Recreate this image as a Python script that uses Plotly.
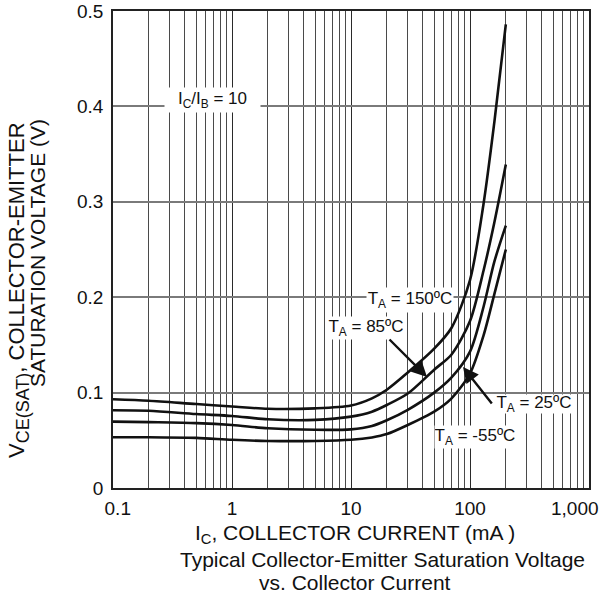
import plotly.graph_objects as go

# ---- data (collector current in mA, VCE(sat) in V) ----
current_mA = [0.1, 0.2, 0.5, 1, 2, 5, 10, 15, 20, 30, 50, 70, 100, 130, 160, 200]
v_150C = [0.093, 0.0915, 0.088, 0.0855, 0.083, 0.0835, 0.0865, 0.094, 0.103, 0.121, 0.146, 0.168, 0.218, 0.298, 0.383, 0.486]
v_85C = [0.0815, 0.081, 0.0775, 0.0755, 0.072, 0.0714, 0.0748, 0.080, 0.087, 0.099, 0.124, 0.140, 0.175, 0.228, 0.278, 0.339]
v_25C = [0.0696, 0.069, 0.068, 0.066, 0.0626, 0.061, 0.0615, 0.065, 0.071, 0.082, 0.100, 0.116, 0.143, 0.190, 0.237, 0.275]
v_m55C = [0.0532, 0.0532, 0.0525, 0.0505, 0.0493, 0.0493, 0.0505, 0.053, 0.0565, 0.066, 0.080, 0.094, 0.120, 0.160, 0.203, 0.250]

series_names = ["TA = 150ºC", "TA = 85ºC", "TA = 25ºC", "TA = -55ºC"]
series_values = [v_150C, v_85C, v_25C, v_m55C]

x_decades = [0.1, 1, 10, 100, 1000]
x_decade_labels = ["\u20020.1", "1", "10", "100", "1,000\u2002\u2002\u2002"]
x_minor = [m * d for d in x_decades[:-1] for m in range(2, 10)]
y_ticks = [0, 0.1, 0.2, 0.3, 0.4, 0.5]
y_tick_labels = ["0", "0.1", "0.2", "0.3", "0.4", "0.5"]

# ---- layout geometry (pixels) ----
W, H = 608, 594
PL, PR, PT, PB = 113, 589, 11, 488
FONT = "Liberation Sans, Arial, sans-serif"


def px(x):
    return (x - PL) / (PR - PL)


def py(y):
    return (PB - y) / (PB - PT)


fig = go.Figure()
for name, vals in zip(series_names, series_values):
    fig.add_trace(go.Scatter(
        x=current_mA, y=vals, mode="lines", name=name, showlegend=False,
        hoverinfo="skip",
        line=dict(color="#111111", width=2.6, shape="spline", smoothing=0.8),
    ))

fig.update_layout(
    width=W, height=H,
    margin=dict(l=PL, r=W - PR, t=PT, b=H - PB, pad=0),
    paper_bgcolor="white", plot_bgcolor="white",
    font=dict(family=FONT, color="#111111"),
    showlegend=False,
)
fig.update_xaxes(
    type="log", range=[-1, 3], automargin=False,
    tickvals=x_decades, ticktext=x_decade_labels,
    ticklabeloverflow="allow",
    showgrid=True, gridcolor="#2a2a2a", gridwidth=1.2,
    minor=dict(tickvals=x_minor, showgrid=True, gridcolor="#4a4a4a", gridwidth=1.2, ticks=""),
    ticks="", tickfont=dict(size=19, family=FONT, color="#111111"),
    ticklabelstandoff=2,
    showline=True, linecolor="#222222", linewidth=1.5, mirror=True,
    zeroline=False,
)
fig.update_yaxes(
    range=[0, 0.5], automargin=False,
    tickvals=y_ticks, ticktext=y_tick_labels,
    ticklabeloverflow="allow",
    showgrid=True, gridcolor="#7a7a7a", gridwidth=1.6,
    ticks="", tickfont=dict(size=19, family=FONT, color="#111111"),
    ticklabelstandoff=4,
    showline=True, linecolor="#222222", linewidth=1.5, mirror=True,
    zeroline=False,
)

label_font = dict(family=FONT, size=17, color="#111111")
boxes = [
    ("I<sub>C</sub>/I<sub>B</sub> = 10", 212, 100, 95, 24),
    ("T<sub>A</sub> = 150ºC", 410, 300, 86, 24),
    ("T<sub>A</sub> = 85ºC", 366, 328, 80, 22),
    ("T<sub>A</sub> = 25ºC", 534, 404, 78, 18),
    ("T<sub>A</sub> = -55ºC", 475, 437, 80, 22),
]
for text, cx, cy, w, h in boxes:
    fig.add_annotation(
        text=text, xref="paper", yref="paper", x=px(cx), y=py(cy),
        xanchor="center", yanchor="middle", showarrow=False,
        width=w, height=h, bgcolor="white", borderpad=0, font=label_font,
    )

# arrows (head position, tail offset in pixels)
for hx, hy, ax, ay in [(427, 377, -39, -39), (463, 367, 30, 38)]:
    fig.add_annotation(
        text="", xref="paper", yref="paper", x=px(hx), y=py(hy),
        ax=ax, ay=ay, showarrow=True, arrowhead=2, arrowsize=1.3,
        arrowwidth=2.4, arrowcolor="#111111", standoff=0,
    )

title_font = dict(family=FONT, size=21, color="#111111")
fig.add_annotation(
    text="I<sub>C</sub>, COLLECTOR CURRENT (mA )", xref="paper", yref="paper",
    x=px(355), y=py(534), showarrow=False, font=title_font,
    xanchor="center", yanchor="middle",
)
fig.add_annotation(
    text="Typical Collector-Emitter Saturation Voltage", xref="paper", yref="paper",
    x=px(382), y=py(559), showarrow=False, font=title_font,
    xanchor="center", yanchor="middle",
)
fig.add_annotation(
    text="vs. Collector Current", xref="paper", yref="paper",
    x=px(355), y=py(582), showarrow=False, font=title_font,
    xanchor="center", yanchor="middle",
)
fig.add_annotation(
    text="V<sub><span style='font-size:18px'>CE(SAT)</span></sub>, COLLECTOR-EMITTER",
    xref="paper", yref="paper",
    x=px(18), y=py(290), showarrow=False, font=dict(family=FONT, size=22, color="#111111"),
    textangle=-90, xanchor="center", yanchor="middle",
)
fig.add_annotation(
    text="SATURATION VOLTAGE (V)", xref="paper", yref="paper",
    x=px(38), y=py(253), showarrow=False, font=title_font, textangle=-90,
    xanchor="center", yanchor="middle",
)

fig.write_html("out.html", config={"displayModeBar": False},
               post_script="document.body.style.margin='0px';")
